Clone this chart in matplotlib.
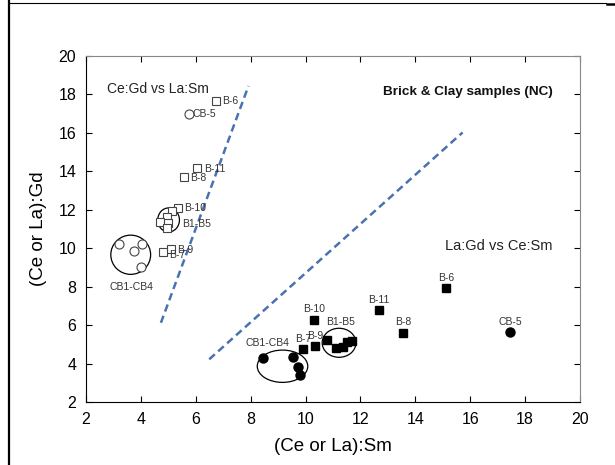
import numpy as np
import matplotlib.pyplot as plt
from matplotlib.patches import Ellipse
from matplotlib.lines import Line2D

plt.rcParams['font.family'] = ['Liberation Sans', 'DejaVu Sans']

# Ce:Gd vs La:Sm (open symbols)
open_sq_x = [6.73, 6.06, 5.57, 5.34, 5.12, 4.94, 4.70, 5.00, 4.94, 5.09, 4.79]
open_sq_y = [17.68, 14.16, 13.69, 12.11, 11.92, 11.64, 11.38, 11.33, 11.07, 9.96, 9.82]
open_sq_lab = ['B-6', 'B-11', 'B-8', 'B-10', '', '', '', '', '', 'B-9', 'B-7']
open_ci_x = [5.74, 3.21, 4.05, 3.75, 4.00]
open_ci_y = [16.98, 10.20, 10.20, 9.86, 9.00]
open_ci_lab = ['CB-5', '', '', '', '']

# La:Gd vs Ce:Sm (filled symbols)
fill_sq_x = [15.11, 12.68, 13.56, 10.30, 9.90, 10.36, 10.79, 11.11, 11.38, 11.50, 11.69]
fill_sq_y = [7.92, 6.77, 5.61, 6.27, 4.76, 4.91, 5.24, 4.81, 4.88, 5.14, 5.17]
fill_sq_lab = ['B-6', 'B-11', 'B-8', 'B-10', 'B-7', 'B-9', '', '', '', '', '']
fill_ci_x = [17.46, 8.44, 9.56, 9.74, 9.78]
fill_ci_y = [5.63, 4.30, 4.36, 3.81, 3.40]
fill_ci_lab = ['CB-5', '', '', '', '']

# group outlines: centre x, centre y, width, height
groups = [(3.63, 9.66, 1.45, 2.04), (5.01, 11.47, 0.79, 1.25),
          (9.16, 3.86, 1.84, 1.68), (11.22, 5.08, 1.23, 1.51)]
group_lab = ['CB1-CB4', 'B1-B5', 'CB1-CB4', 'B1-B5']
group_lab_x = [3.66, 5.50, 8.62, 11.26]
group_lab_y = [7.97, 11.28, 5.05, 6.18]

# dashed separators
line1_x = [4.73, 7.92]
line1_y = [6.12, 18.44]
line2_x = [6.49, 15.72]
line2_y = [4.22, 16.02]

fig = plt.figure(figsize=(6.15, 4.65), dpi=100)
ax = fig.add_axes([0.1398, 0.1355, 0.8034, 0.7441])

ax.plot(line1_x, line1_y, ls=(0, (3, 1.8)), color='#4a72b0', lw=1.8)
ax.plot(line2_x, line2_y, ls=(0, (3, 1.8)), color='#4a72b0', lw=1.8)

ax.plot(open_sq_x, open_sq_y, 's', ms=6.2, mfc='white', mec='#444444', mew=0.8, ls='none')
ax.plot(open_ci_x, open_ci_y, 'o', ms=6.5, mfc='white', mec='#444444', mew=0.8, ls='none')
ax.plot(fill_sq_x, fill_sq_y, 's', ms=6.2, color='black', ls='none')
ax.plot(fill_ci_x, fill_ci_y, 'o', ms=6.5, color='black', ls='none')

lab_kw = dict(fontsize=7.5, color='#333333', textcoords='offset points')
for x, y, s in zip(open_sq_x, open_sq_y, open_sq_lab):
    if s:
        ax.annotate(s, (x, y), xytext=(4.5, -0.5 if s != 'B-7' else -2.5),
                    ha='left', va='center', **lab_kw)
for x, y, s in zip(open_ci_x, open_ci_y, open_ci_lab):
    if s:
        ax.annotate(s, (x, y), xytext=(3, 0), ha='left', va='center', **lab_kw)
for x, y, s in zip(fill_sq_x, fill_sq_y, fill_sq_lab):
    if s:
        ax.annotate(s, (x, y), xytext=(0, 7.5), ha='center', va='center', **lab_kw)
for x, y, s in zip(fill_ci_x, fill_ci_y, fill_ci_lab):
    if s:
        ax.annotate(s, (x, y), xytext=(0, 7.5), ha='center', va='center', **lab_kw)

for (cx, cy, w, h), s, lx, ly in zip(groups, group_lab, group_lab_x, group_lab_y):
    ax.add_patch(Ellipse((cx, cy), w, h, fill=False, ec='black', lw=0.9))
    ax.text(lx, ly, s, fontsize=7.5, color='#333333',
            ha='left' if s == 'B1-B5' and lx < 6 else 'center', va='center')

ax.text(0.043, 0.893, 'Ce:Gd vs La:Sm', transform=ax.transAxes, fontsize=10, color='#222222')
ax.text(0.945, 0.888, 'Brick & Clay samples (NC)', transform=ax.transAxes,
        fontsize=9.7, fontweight='bold', ha='right', color='#111111')
ax.text(0.945, 0.44, 'La:Gd vs Ce:Sm', transform=ax.transAxes, fontsize=10.5,
        ha='right', color='#222222')

ax.set_xlim(2, 20)
ax.set_ylim(2, 20)
ax.set_xticks(np.arange(2, 21, 2))
ax.set_yticks(np.arange(2, 21, 2))
ax.tick_params(direction='in', length=4.5, width=0.8, labelsize=11.5, pad=7,
               top=True, right=True)
for side in ['top', 'right']:
    ax.spines[side].set_color('#888888')
for side in ['left', 'bottom']:
    ax.spines[side].set_color('black')
ax.set_xlabel('(Ce or La):Sm', fontsize=13.5, labelpad=8)
ax.set_ylabel('(Ce or La):Gd', fontsize=13.5, labelpad=8)

# table cell border around the picture
fig.add_artist(Line2D([0.0146, 0.0146], [0, 1.0], color='black', lw=1.6))
fig.add_artist(Line2D([0.0146, 0.985], [0.993, 0.993], color='black', lw=0.8))
fig.add_artist(Line2D([0.987, 1.0], [0.991, 0.991], color='black', lw=1.8))

fig.savefig('out.png', dpi=100)
